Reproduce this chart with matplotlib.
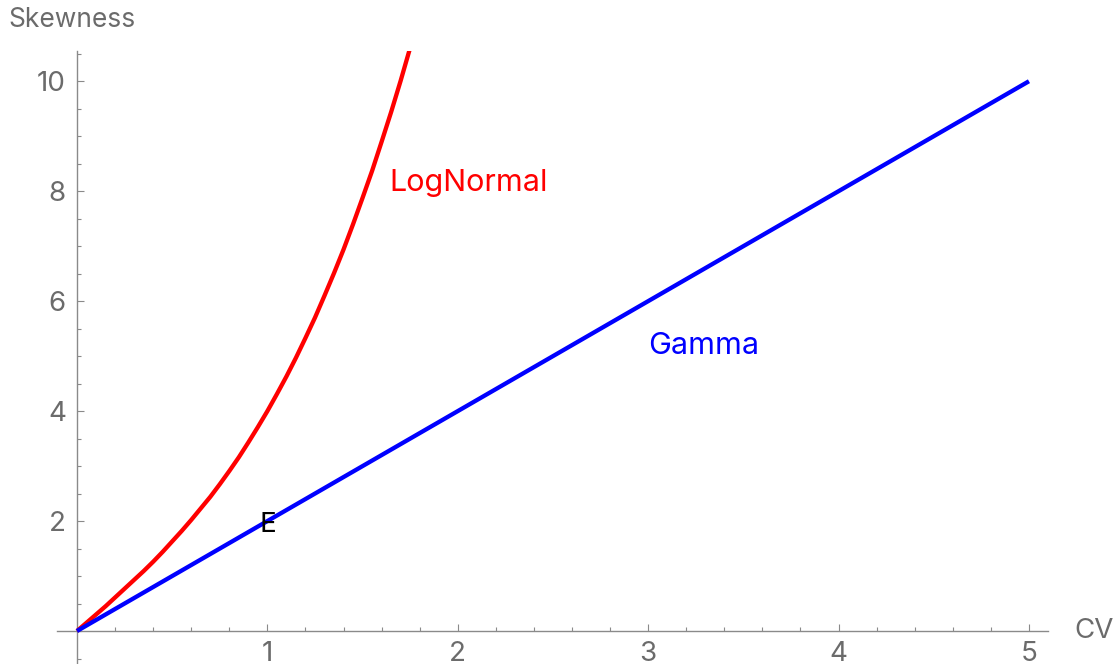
import numpy as np
import matplotlib
matplotlib.use("Agg")
from matplotlib import pyplot as plt
from matplotlib.ticker import MultipleLocator

plt.rcParams['font.family'] = ['Inter', 'DejaVu Sans']

# --- curve data (CV -> skewness) ---
lognormal_cv = [0.0, 0.05, 0.1, 0.15, 0.2, 0.25, 0.3, 0.35, 0.4, 0.45,
                0.5, 0.55, 0.6, 0.65, 0.7, 0.75, 0.8, 0.85, 0.9, 0.95,
                1.0, 1.05, 1.1, 1.15, 1.2, 1.25, 1.3, 1.35, 1.4, 1.45,
                1.5, 1.55, 1.6, 1.65, 1.7, 1.75, 1.8]
lognormal_skew = [0.0, 0.15, 0.30, 0.45, 0.61, 0.77, 0.93, 1.09, 1.26, 1.44,
                  1.63, 1.82, 2.02, 2.23, 2.44, 2.67, 2.91, 3.16, 3.43, 3.71,
                  4.0, 4.31, 4.63, 4.97, 5.33, 5.70, 6.10, 6.51, 6.94, 7.40,
                  7.88, 8.37, 8.90, 9.44, 10.01, 10.61, 11.23]
gamma_cv = [0.0, 5.0]
gamma_skew = [0.0, 10.0]

# labels placed on the plot
labels = ["LogNormal", "Gamma", "E"]
label_x = [1.64, 3.0, 1.0]
label_y = [8.15, 5.18, 1.92]

grey = "#6b6b6b"

fig = plt.figure(figsize=(11.14, 6.64), dpi=100)
ax = fig.add_axes([57 / 1114, 0.0, (1048 - 57) / 1114, (664 - 51) / 664])

ax.plot(lognormal_cv, lognormal_skew, color="red", lw=3.1, solid_capstyle="butt", zorder=3)
ax.plot(gamma_cv, gamma_skew, color="blue", lw=3.1, solid_capstyle="butt", zorder=3)

ax.text(label_x[0], label_y[0], labels[0], color="red", fontsize=22, ha="left", va="center")
ax.text(label_x[1], label_y[1], labels[1], color="blue", fontsize=22, ha="left", va="center")
ax.text(label_x[2], label_y[2], labels[2], color="black", fontsize=20, ha="center", va="center")

ax.set_xlim(-0.105, 5.1)
ax.set_ylim(-0.6, 10.55)

# axes cross at the origin
for side in ["top", "right"]:
    ax.spines[side].set_visible(False)
ax.spines["left"].set_position(("data", 0))
ax.spines["bottom"].set_position(("data", 0))
for side in ["left", "bottom"]:
    ax.spines[side].set_color("#8a8a8a")
    ax.spines[side].set_linewidth(1.0)

ax.xaxis.set_minor_locator(MultipleLocator(0.2))
ax.yaxis.set_minor_locator(MultipleLocator(0.5))
ax.set_xticks([1, 2, 3, 4, 5])
ax.set_yticks([2, 4, 6, 8, 10])

ax.tick_params(which="both", direction="in", color="#8a8a8a", width=0.8,
               labelcolor=grey, labelsize=20)
ax.tick_params(which="major", length=5)
ax.tick_params(which="minor", length=3)
ax.tick_params(axis="x", pad=7)
ax.tick_params(axis="y", pad=8)

fig.text(8 / 1114, 1 - 20 / 664, "Skewness", color=grey, fontsize=19, ha="left", va="center")
fig.text(1074 / 1114, 1 - 631 / 664, "CV", color=grey, fontsize=20, ha="left", va="center")

fig.savefig("out.png", dpi=100)
